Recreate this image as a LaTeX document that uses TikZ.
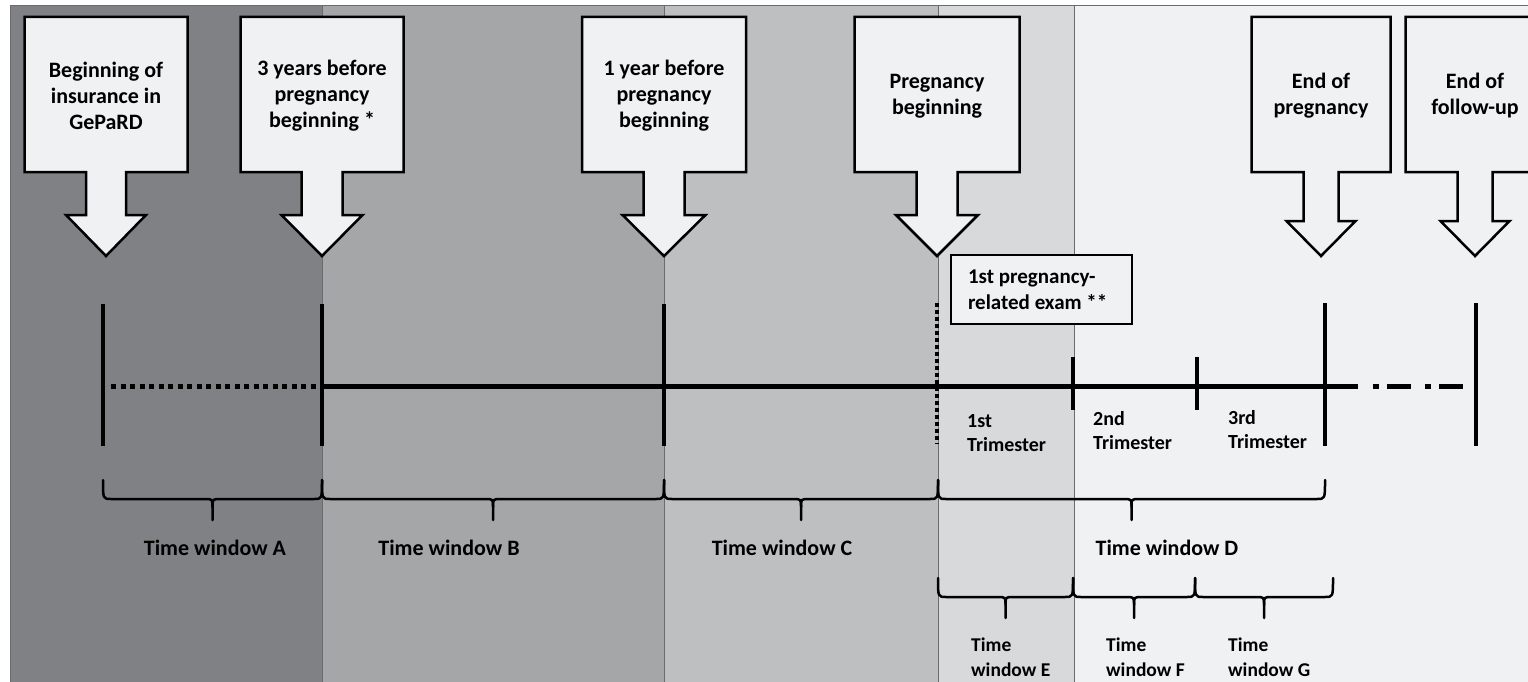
\documentclass[tikz,border=0pt]{standalone}
\usepackage{fontspec}
\setmainfont{Carlito}
\definecolor{bandA}{HTML}{808184}
\definecolor{bandB}{HTML}{A5A6A8}
\definecolor{bandC}{HTML}{BEBFC1}
\definecolor{bandD}{HTML}{D8D9DB}
\definecolor{bandE}{HTML}{F0F1F3}
\definecolor{boxfill}{HTML}{F0F1F3}
\definecolor{sepline}{HTML}{6A6B6D}
\tikzset{
  calloutshape/.style={draw=black, fill=boxfill, line width=2.5pt, line join=miter},
  boxtext/.style={font=\fontsize{22}{26}\selectfont\bfseries, align=center, inner sep=0pt},
  wintext/.style={font=\fontsize{22}{26}\selectfont\bfseries, inner sep=0pt},
  smalltext/.style={font=\fontsize{20}{24}\selectfont\bfseries, align=flush left, inner sep=0pt, anchor=west},
  lowtext/.style={font=\fontsize{19.5}{25}\selectfont\bfseries, align=flush left, inner sep=0pt, anchor=west},
  tline/.style={line width=5pt},
  tickline/.style={line width=4.5pt},
  bracestyle/.style={line width=2.5pt, line cap=round, line join=round},
  bandrect/.style={draw=sepline, line width=0.8pt},
}
% name, cx, half width, shaft half, head half, head top, text
\newcommand\mycallout[7]{%
  \draw[calloutshape] (#2-#3,17) -- (#2+#3,17) -- (#2+#3,172) -- (#2+#4,172)
    -- (#2+#4,#6) -- (#2+#5,#6) -- (#2,256) -- (#2-#5,#6) -- (#2-#4,#6)
    -- (#2-#4,172) -- (#2-#3,172) -- cycle;
  \node[boxtext] (#1) at (#2,96) {#7};
}
% x1, x2, ytop, yline
\newcommand\mybrace[4]{%
  \pgfmathsetmacro\bcx{(#1+#2)/2}
  \draw[bracestyle] (#1,#3) .. controls (#1,#4) .. (#1+8,#4) -- (\bcx-8,#4)
    .. controls (\bcx,#4) .. (\bcx,#4+8) -- (\bcx,#4+21);
  \draw[bracestyle] (\bcx,#4+8) .. controls (\bcx,#4) .. (\bcx+8,#4) -- (#2-8,#4)
    .. controls (#2,#4) .. (#2,#3);
}
\begin{document}
\begin{tikzpicture}[x=1pt,y=-1pt]
\clip (0,0) rectangle (1528,682);
\fill[white] (0,0) rectangle (1528,682);
% background bands
\draw[bandrect, fill=bandA] (10,5) rectangle (322,690);
\draw[bandrect, fill=bandB] (322,5) rectangle (664,690);
\draw[bandrect, fill=bandC] (664,5) rectangle (938,690);
\draw[bandrect, fill=bandD] (938,5) rectangle (1074,690);
\draw[bandrect, fill=bandE] (1074,5) rectangle (1540,690);

% callout boxes
\mycallout{b1}{106}{81.5}{20}{40}{215}{Beginning of\\insurance in\\GePaRD}
\mycallout{b2}{322}{81.5}{20.5}{40.5}{215}{3 years before\\pregnancy\\beginning *}
\mycallout{b3}{664}{82}{20.5}{41.5}{215}{1 year before\\pregnancy\\beginning}
\mycallout{b4}{937}{82.5}{20.5}{41}{215}{Pregnancy\\beginning}
\mycallout{b5}{1321}{69.5}{17.5}{34.5}{221}{End of\\pregnancy}
\mycallout{b6}{1475}{69.5}{17.5}{34.5}{221}{End of\\follow-up}

% exam box
\node[draw=black, fill=boxfill, line width=2pt, anchor=north west,
      minimum height=69pt, text width=147pt, inner xsep=17pt, inner ysep=0pt,
      align=flush left, font=\fontsize{21}{26}\selectfont\bfseries]
  (exam) at (950,254) {\mbox{1st pregnancy-}\\\mbox{related exam **}};

% timeline
\coordinate (t0) at (103,386);
\coordinate (t1) at (322,386);
\coordinate (t2) at (664,386);
\coordinate (t3) at (937,386);
\coordinate (t4) at (1073,386);
\coordinate (t5) at (1197,386);
\coordinate (t6) at (1325,386);
\coordinate (t7) at (1476,386);
\coordinate (solidend) at (1358,386);
\coordinate (dashstart) at (1373,386);
\coordinate (dashend) at (1466,386);
\coordinate (dotstart) at (111,386);

\draw[tline, dash pattern=on 5pt off 4.5pt] (dotstart) -- (t1);
\draw[tline] (t1) -- (solidend);
\draw[tline, dash pattern=on 6pt off 8pt on 24pt off 14pt] (dashstart) -- (dashend);

\draw[tickline] (103,304) -- (103,446);
\draw[tickline] (322,304) -- (322,446);
\draw[tickline] (664,304) -- (664,446);
\draw[line width=4.5pt, dash pattern=on 3.5pt off 3.5pt] (937,303) -- (937,444);
\draw[tickline] (1073,357) -- (1073,410);
\draw[tickline] (1197,357) -- (1197,410);
\draw[tickline] (1325,303) -- (1325,446);
\draw[tickline] (1476,303) -- (1476,446);

% trimester labels
\node[smalltext] (tri1) at (967,433.5) {1st\\Trimester};
\node[smalltext] (tri2) at (1093,431) {2nd\\Trimester};
\node[smalltext] (tri3) at (1228,429.5) {3rd\\Trimester};

% braces level 1
\mybrace{103}{322}{480}{499}
\mybrace{322}{664}{480}{499}
\mybrace{664}{938}{480}{499}
\mybrace{938}{1325}{480}{499}
% braces level 2
\mybrace{938}{1073}{578}{597}
\mybrace{1073}{1195}{578}{597}
\mybrace{1195}{1333}{578}{597}

% window labels
\node[wintext] (wA) at (215,548) {Time window A};
\node[wintext] (wB) at (449,548) {Time window B};
\node[wintext] (wC) at (782,548) {Time window C};
\node[wintext] (wD) at (1167,548) {Time window D};
\node[lowtext] (wE) at (971,657.5) {Time\\window E};
\node[lowtext] (wF) at (1106,657.5) {Time\\window F};
\node[lowtext] (wG) at (1228,657.5) {Time\\window G};
\end{tikzpicture}
\end{document}
